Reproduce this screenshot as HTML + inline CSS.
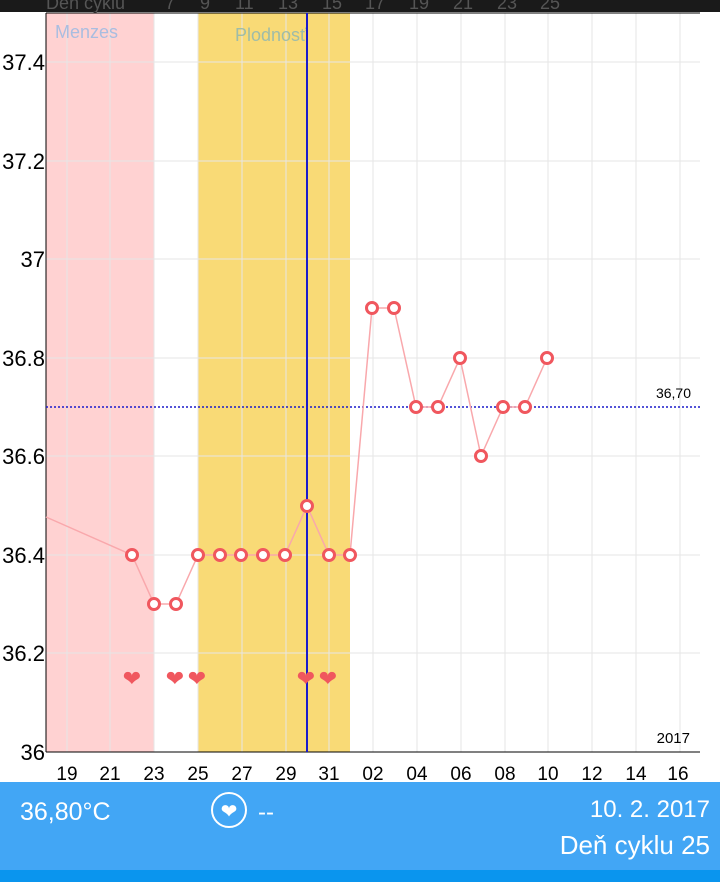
<!DOCTYPE html>
<html><head><meta charset="utf-8"><style>
body{margin:0;width:720px;height:882px;overflow:hidden;background:#fff;font-family:"Liberation Sans",sans-serif}
</style></head><body>
<svg width="720" height="882" xmlns="http://www.w3.org/2000/svg" style="position:absolute;left:0;top:0">
<rect x="0" y="0" width="720" height="12" fill="#1a1a1a"/>
<g font-size="18" fill="#555" font-family="Liberation Sans">
<text x="46" y="9">Deň cyklu</text><text x="165" y="9">7</text><text x="200" y="9">9</text><text x="235" y="9">11</text><text x="278" y="9">13</text><text x="322" y="9">15</text><text x="365" y="9">17</text><text x="409" y="9">19</text><text x="453" y="9">21</text><text x="497" y="9">23</text><text x="540" y="9">25</text>
</g>
<rect x="46" y="13" width="108" height="739" fill="#ffd2d2"/>
<rect x="198" y="13" width="152" height="739" fill="#f9da76"/>
<g stroke="#e6e6e6" stroke-width="1">
<line x1="67" y1="13" x2="67" y2="752"/><line x1="110" y1="13" x2="110" y2="752"/><line x1="154" y1="13" x2="154" y2="752"/><line x1="198" y1="13" x2="198" y2="752"/><line x1="242" y1="13" x2="242" y2="752"/><line x1="286" y1="13" x2="286" y2="752"/><line x1="329" y1="13" x2="329" y2="752"/><line x1="373" y1="13" x2="373" y2="752"/><line x1="417" y1="13" x2="417" y2="752"/><line x1="461" y1="13" x2="461" y2="752"/><line x1="505" y1="13" x2="505" y2="752"/><line x1="548" y1="13" x2="548" y2="752"/><line x1="592" y1="13" x2="592" y2="752"/><line x1="636" y1="13" x2="636" y2="752"/><line x1="680" y1="13" x2="680" y2="752"/>
<line x1="46" y1="62" x2="700" y2="62"/><line x1="46" y1="161" x2="700" y2="161"/><line x1="46" y1="259" x2="700" y2="259"/><line x1="46" y1="358" x2="700" y2="358"/><line x1="46" y1="456" x2="700" y2="456"/><line x1="46" y1="555" x2="700" y2="555"/><line x1="46" y1="653" x2="700" y2="653"/>
</g>
<line x1="46" y1="13" x2="46" y2="752" stroke="#000"/>
<line x1="46" y1="13" x2="700" y2="13" stroke="#000"/>
<line x1="46" y1="752" x2="700" y2="752" stroke="#000"/>
<text x="55" y="38" font-size="18" fill="#a9bde0">Menzes</text>
<text x="235" y="41" font-size="18" fill="#9fbca8">Plodnosť</text>
<line x1="307" y1="13" x2="307" y2="752" stroke="#1a1acc" stroke-width="2"/>
<line x1="46" y1="407" x2="700" y2="407" stroke="#1a1acc" stroke-width="1.5" stroke-dasharray="2,2"/>
<text x="691" y="398" font-size="14" text-anchor="end">36,70</text>
<text x="690" y="743" font-size="15" text-anchor="end">2017</text>
<g font-size="22" text-anchor="end" fill="#000">
<text x="45" y="70">37.4</text><text x="45" y="169">37.2</text><text x="45" y="267">37</text><text x="45" y="366">36.8</text><text x="45" y="464">36.6</text><text x="45" y="563">36.4</text><text x="45" y="661">36.2</text><text x="45" y="760">36</text>
</g>
<g font-size="19" text-anchor="middle">
<text x="67" y="780">19</text><text x="110" y="780">21</text><text x="154" y="780">23</text><text x="198" y="780">25</text><text x="242" y="780">27</text><text x="286" y="780">29</text><text x="329" y="780">31</text><text x="373" y="780">02</text><text x="417" y="780">04</text><text x="461" y="780">06</text><text x="505" y="780">08</text><text x="548" y="780">10</text><text x="592" y="780">12</text><text x="636" y="780">14</text><text x="678" y="780">16</text>
</g>
<polyline fill="none" stroke="#f9a8ac" stroke-width="1.5" points="46,517 132,555 154,604 176,604 198,555 220,555 241,555 263,555 285,555 307,506 329,555 350,555 372,308 394,308 416,407 438,407 460,358 481,456 503,407 525,407 547,358"/>
<g fill="#fff" stroke="#f0575e" stroke-width="3">
<circle cx="132" cy="555" r="5.5"/><circle cx="154" cy="604" r="5.5"/><circle cx="176" cy="604" r="5.5"/><circle cx="198" cy="555" r="5.5"/><circle cx="220" cy="555" r="5.5"/><circle cx="241" cy="555" r="5.5"/><circle cx="263" cy="555" r="5.5"/><circle cx="285" cy="555" r="5.5"/><circle cx="307" cy="506" r="5.5"/><circle cx="329" cy="555" r="5.5"/><circle cx="350" cy="555" r="5.5"/><circle cx="372" cy="308" r="5.5"/><circle cx="394" cy="308" r="5.5"/><circle cx="416" cy="407" r="5.5"/><circle cx="438" cy="407" r="5.5"/><circle cx="460" cy="358" r="5.5"/><circle cx="481" cy="456" r="5.5"/><circle cx="503" cy="407" r="5.5"/><circle cx="525" cy="407" r="5.5"/><circle cx="547" cy="358" r="5.5"/>
</g>
<g font-size="22" fill="#f0575e" text-anchor="middle" font-family="DejaVu Sans">
<text x="132" y="686">❤</text><text x="175" y="686">❤</text><text x="197" y="686">❤</text><text x="306" y="686">❤</text><text x="328" y="686">❤</text>
</g>
<rect x="0" y="782" width="720" height="88" fill="#42a6f5"/>
<rect x="0" y="870" width="720" height="12" fill="#0a95ee"/>
<text x="20" y="820" font-size="25" fill="#fff">36,80°C</text>
<circle cx="229" cy="810" r="17" fill="none" stroke="#fff" stroke-width="2"/>
<text x="229" y="818" font-size="20" fill="#fff" text-anchor="middle" font-family="DejaVu Sans">❤</text>
<text x="258" y="820" font-size="24" fill="#fff">--</text>
<text x="710" y="817" font-size="24" fill="#fff" text-anchor="end">10. 2. 2017</text>
<text x="710" y="854" font-size="26" fill="#fff" text-anchor="end">Deň cyklu 25</text>
</svg>
</body></html>
